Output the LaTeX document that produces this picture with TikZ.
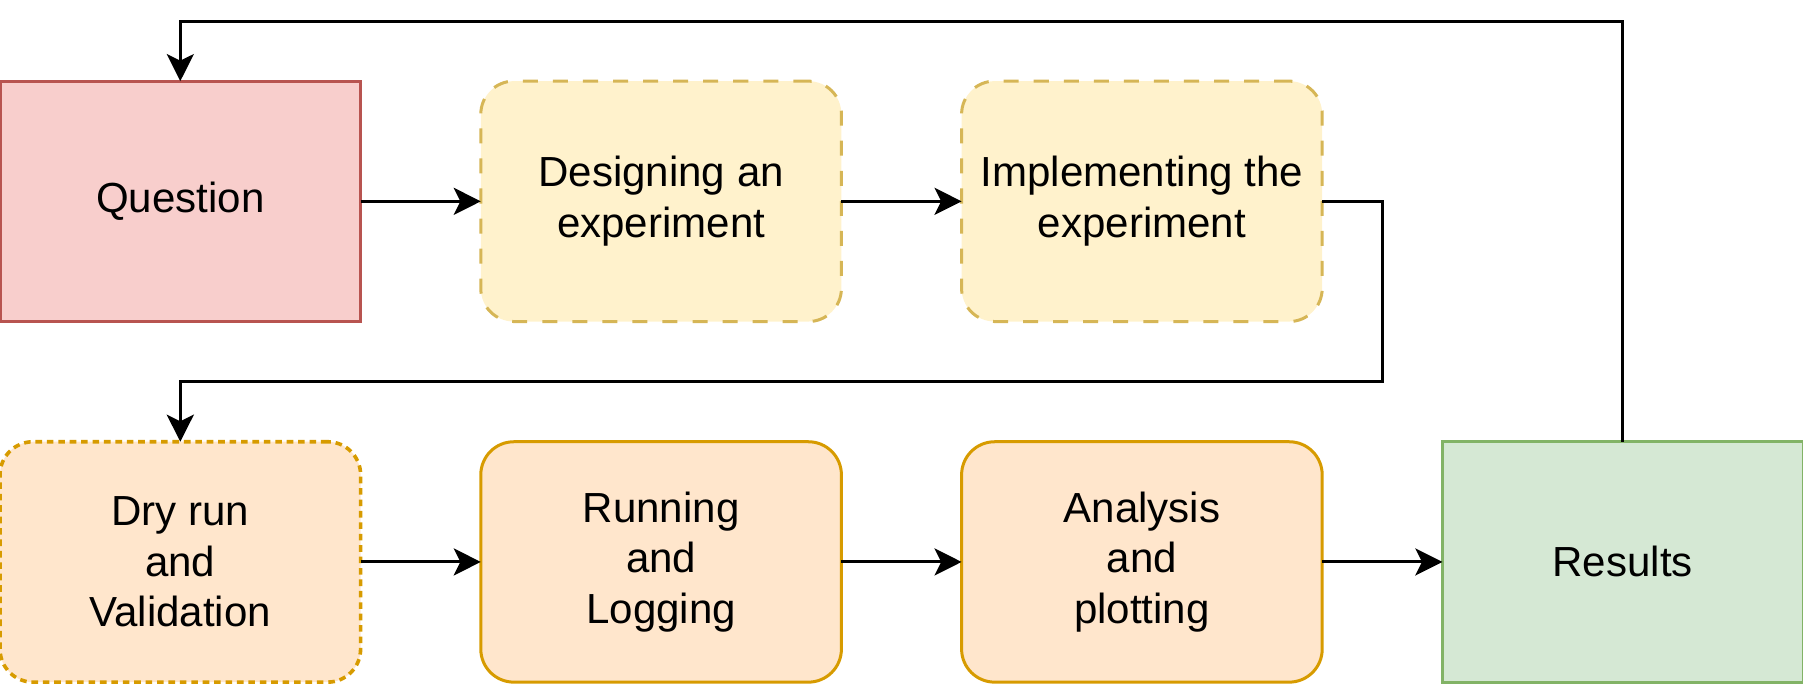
\documentclass[tikz,border=0pt]{standalone}
\usepackage{fontspec}
\setmainfont{Liberation Sans}
\usetikzlibrary{arrows.meta, positioning}
\definecolor{qFill}{HTML}{F8CECC}
\definecolor{qLine}{HTML}{B85450}
\definecolor{yFill}{HTML}{FFF2CC}
\definecolor{yLine}{HTML}{D6B656}
\definecolor{oFill}{HTML}{FFE6CC}
\definecolor{oLine}{HTML}{D79B00}
\definecolor{gFill}{HTML}{D5E8D4}
\definecolor{gLine}{HTML}{82B366}
\tikzstyle{block}= [minimum width=120pt, minimum height=80pt, inner sep=0pt, outer sep=0pt, align=center, font=\fontsize{14}{16.8}\selectfont, line width=1pt]
\tikzstyle{qbox}= [block, draw=qLine, fill=qFill]
\tikzstyle{ybox}= [block, draw=yLine, fill=yFill, rounded corners=11pt, dash pattern=on 5pt off 5pt]
\tikzstyle{obox}= [block, draw=oLine, fill=oFill, rounded corners=11pt]
\tikzstyle{gbox}= [block, draw=gLine, fill=gFill]

\begin{document}
\begin{tikzpicture}[x=1pt,y=-1pt,node distance=40pt,>={Stealth[length=9pt,width=9pt,inset=2.2pt]}]
    \useasboundingbox (0,0) rectangle (600,227.6);

    % top row
    \node [qbox] (question) at (60,67) {Question};
    \node [ybox, right=of question] (design) {Designing an\\experiment};
    \node [ybox, right=of design] (implement) {Implementing the\\experiment};

    % bottom row
    \node [obox, below=of question, dash pattern=on 2.2pt off 1.6pt, line width=1.2pt] (dry) {Dry run\\and\\Validation};
    \node [obox, right=of dry] (running) {Running\\and\\Logging};
    \node [obox, right=of running] (analysis) {Analysis\\and\\plotting};
    \node [gbox, right=of analysis] (results) {Results};

    % forward path
    \draw[->, line width=1pt] (question) -- (design);
    \draw[->, line width=1pt] (design) -- (implement);
    \draw[->, line width=1pt] (implement.east)
    -- ++(20,0)
    |- ++(-400,60)
    -- (dry.north);
    \draw[->, line width=1pt] (dry) -- (running);
    \draw[->, line width=1pt] (running) -- (analysis);
    \draw[->, line width=1pt] (analysis) -- (results);

    % feedback path
    \draw[->, line width=1pt] (results.north)
    -- ++(0,-140)
    -| (question.north);

\end{tikzpicture}
\end{document}
